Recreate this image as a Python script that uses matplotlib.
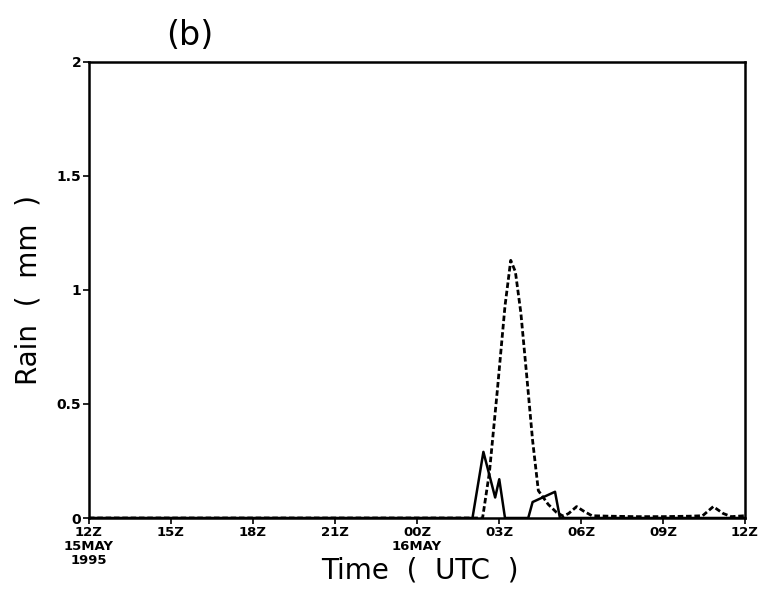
import numpy as np
import matplotlib
matplotlib.use("Agg")
import matplotlib.pyplot as plt

# hours after 12Z 15 May 1995
t_obs = [0, 14.03, 14.43, 14.86, 15.01, 15.22, 16.07, 16.23, 17.05, 17.23, 24.0]
rain_obs = [0, 0, 0.29, 0.09, 0.17, 0, 0, 0.07, 0.115, 0, 0]

t_mod = [0, 14.40, 14.65, 14.94, 15.22, 15.43, 15.60, 15.80, 16.01, 16.23, 16.44,
         16.80, 17.10, 17.35, 17.55, 17.84, 18.10, 18.40, 19.0, 20.0, 21.0, 22.0,
         22.45, 22.84, 23.2, 23.5, 24.0]
rain_mod = [0, 0, 0.20, 0.56, 0.93, 1.13, 1.08, 0.90, 0.63, 0.34, 0.12,
            0.06, 0.025, 0.008, 0.02, 0.05, 0.03, 0.01, 0.008, 0.006, 0.006, 0.008,
            0.01, 0.05, 0.02, 0.006, 0.01]

xticks = [0, 3, 6, 9, 12, 15, 18, 21, 24]
xlabels = ["12Z\n15MAY\n1995", "15Z", "18Z", "21Z", "00Z\n16MAY", "03Z", "06Z", "09Z", "12Z"]
yticks = [0, 0.5, 1, 1.5, 2]
ylabels = ["0", "0.5", "1", "1.5", "2"]

fig = plt.figure(figsize=(7.63, 5.92), dpi=100)
ax = fig.add_axes([0.1166, 0.125, 0.8598, 0.7703])

ax.plot(t_mod, rain_mod, color="black", lw=2.0, linestyle=(0, (2.0, 1.0)))
ax.plot(t_obs, rain_obs, color="black", lw=1.8, linestyle="-")

ax.set_xlim(0, 24)
ax.set_ylim(0, 2)
ax.set_xticks(xticks)
ax.set_xticklabels(xlabels, fontsize=9.5, fontweight="bold", linespacing=1.1)
ax.set_yticks(yticks)
ax.set_yticklabels(ylabels, fontsize=10, fontweight="bold")
ax.tick_params(direction="out", length=4, width=1.2, pad=1.5)
for s in ax.spines.values():
    s.set_linewidth(1.8)

fig.text(0.249, 0.94, "(b)", fontsize=24, ha="center", va="center")
fig.text(0.037, 0.51, "Rain  (  mm  )", fontsize=20, rotation=90, ha="center", va="center")
fig.text(0.55, 0.036, "Time  (  UTC  )", fontsize=20, ha="center", va="center")

fig.savefig("out.png", dpi=100)
